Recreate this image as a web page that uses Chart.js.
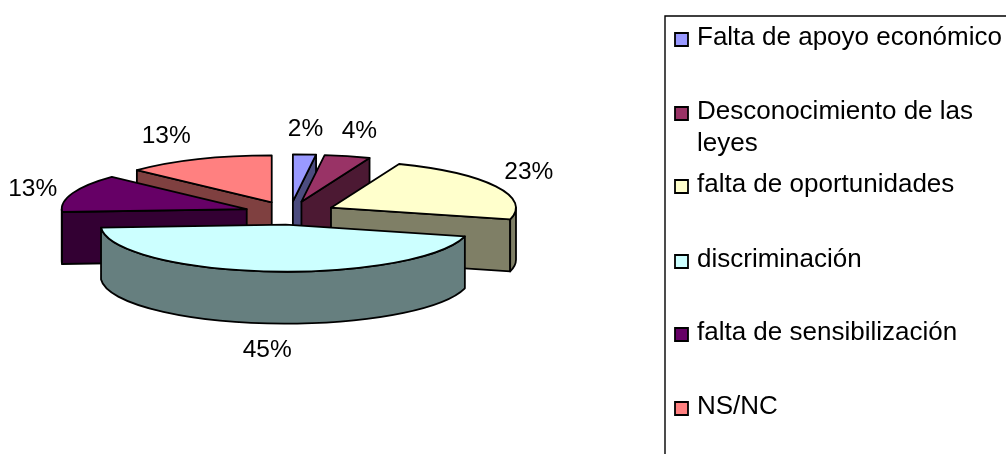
<!DOCTYPE html>
<html lang="es">
<head>
<meta charset="utf-8">
<title>Pastel 3D</title>
<script src="https://cdn.jsdelivr.net/npm/chart.js@4/dist/chart.umd.min.js"></script>
<style>
  html, body { margin: 0; padding: 0; background: #fff; overflow: hidden; }
  canvas { display: block; }
</style>
</head>
<body>
<canvas id="grafico" width="1006" height="454"></canvas>
<script>
const categorias = ['Falta de apoyo económico', 'Desconocimiento de las leyes', 'falta de oportunidades', 'discriminación', 'falta de sensibilización', 'NS/NC'];
const valores = [2, 4, 23, 45, 13, 13];
const coloresCara = ['#9999FF', '#993366', '#FFFFCC', '#CCFFFF', '#660066', '#FF8080'];
const coloresLado = ['#4C4C7F', '#4C1933', '#7F7F66', '#667F7F', '#330033', '#7F4040'];

// Ajustes de dibujo del pastel
const APLASTADO = 0.254;
const SEPARACION = 46;
const GROSOR = 52;
const LINEA = 1.8;
const FUENTE_PCT = '24.5px "Liberation Sans", Arial, sans-serif';
const FUENTE_LEYENDA = '26px "Liberation Sans", Arial, sans-serif';

// Desplazamiento de cada % respecto al punto medio del borde de su porción
const ajusteEtiquetas = [[1, -25], [12, -25], [33, -14], [-1, 79], [-40, -4], [-32, -23]];

// Leyenda: líneas de texto y línea base de cada entrada
const lineasLeyenda = [['Falta de apoyo económico'], ['Desconocimiento de las', 'leyes'], ['falta de oportunidades'], ['discriminación'], ['falta de sensibilización'], ['NS/NC']];
const basesLeyenda = [45, 119, 192, 267, 340, 414];

function trazar(ctx, fill) {
  ctx.fillStyle = fill;
  ctx.fill();
  ctx.stroke();
}

function geometria(arc) {
  const { x, y, startAngle, endAngle, outerRadius } = arc.getProps(['x', 'y', 'startAngle', 'endAngle', 'outerRadius'], true);
  const medio = (startAngle + endAngle) / 2;
  return {
    ini: startAngle,
    fin: endAngle,
    medio,
    rx: outerRadius,
    ry: outerRadius * APLASTADO,
    cx: x + Math.cos(medio) * SEPARACION,
    cy: y + Math.sin(medio) * SEPARACION * APLASTADO,
  };
}

function pared(ctx, g, ang, color) {
  const px = g.cx + Math.cos(ang) * g.rx;
  const py = g.cy + Math.sin(ang) * g.ry;
  ctx.beginPath();
  ctx.moveTo(g.cx, g.cy);
  ctx.lineTo(px, py);
  ctx.lineTo(px, py + GROSOR);
  ctx.lineTo(g.cx, g.cy + GROSOR);
  ctx.closePath();
  trazar(ctx, color);
}

function dibujarPorcion(ctx, g, colorCara, colorLado) {
  // Paredes radiales que miran al frente
  if (Math.cos(g.ini) < -1e-6) pared(ctx, g, g.ini, colorLado);
  if (Math.cos(g.fin) > 1e-6) pared(ctx, g, g.fin, colorLado);

  // Pared exterior: solo la parte de la mitad delantera (0 a 180 grados)
  const desde = Math.max(g.ini, 0);
  const hasta = Math.min(g.fin, Math.PI);
  if (hasta > desde) {
    ctx.beginPath();
    ctx.ellipse(g.cx, g.cy, g.rx, g.ry, 0, desde, hasta, false);
    ctx.ellipse(g.cx, g.cy + GROSOR, g.rx, g.ry, 0, hasta, desde, true);
    ctx.closePath();
    trazar(ctx, colorLado);
  }

  // Cara superior
  ctx.beginPath();
  ctx.moveTo(g.cx, g.cy);
  ctx.ellipse(g.cx, g.cy, g.rx, g.ry, 0, g.ini, g.fin, false);
  ctx.closePath();
  trazar(ctx, colorCara);
}

// Reemplaza el dibujo plano de los arcos por la versión en perspectiva
const pastel3d = {
  id: 'pastel3d',
  beforeDatasetDraw(chart, args) {
    const ctx = chart.ctx;
    const geos = args.meta.data.map(geometria);
    const orden = geos.map((g, i) => i).sort((a, b) => Math.sin(geos[a].medio) - Math.sin(geos[b].medio));

    ctx.save();
    ctx.strokeStyle = '#000';
    ctx.lineWidth = LINEA;
    ctx.lineJoin = 'round';
    orden.forEach(i => dibujarPorcion(ctx, geos[i], coloresCara[i], coloresLado[i]));

    ctx.fillStyle = '#000';
    ctx.font = FUENTE_PCT;
    ctx.textAlign = 'center';
    ctx.textBaseline = 'middle';
    geos.forEach((g, i) => {
      const bx = g.cx + Math.cos(g.medio) * g.rx;
      const by = g.cy + Math.sin(g.medio) * g.ry;
      ctx.fillText(valores[i] + '%', bx + ajusteEtiquetas[i][0], by + ajusteEtiquetas[i][1]);
    });
    ctx.restore();
    return false;
  },
};

const leyenda = {
  id: 'leyendaCaja',
  afterDraw(chart) {
    const ctx = chart.ctx;
    ctx.save();
    ctx.strokeStyle = '#000';
    ctx.lineWidth = 1.4;
    ctx.beginPath();
    ctx.moveTo(665, 454);
    ctx.lineTo(665, 16);
    ctx.lineTo(1006, 16);
    ctx.stroke();

    ctx.font = FUENTE_LEYENDA;
    ctx.textAlign = 'left';
    ctx.textBaseline = 'alphabetic';
    lineasLeyenda.forEach((lineas, i) => {
      const base = basesLeyenda[i];
      ctx.fillStyle = coloresCara[i];
      ctx.lineWidth = 1.8;
      ctx.beginPath();
      ctx.rect(675, base - 12, 13, 13);
      ctx.fill();
      ctx.stroke();
      ctx.fillStyle = '#000';
      lineas.forEach((texto, j) => ctx.fillText(texto, 697, base + j * 32));
    });
    ctx.restore();
  },
};

new Chart(document.getElementById('grafico'), {
  type: 'pie',
  data: {
    labels: categorias,
    datasets: [{ data: valores, backgroundColor: coloresCara, borderWidth: 0 }],
  },
  options: {
    responsive: false,
    animation: false,
    layout: { padding: { left: 105, right: 531, top: 28, bottom: 56 } },
    plugins: { legend: { display: false }, tooltip: { enabled: false } },
  },
  plugins: [pastel3d, leyenda],
});
</script>
</body>
</html>
